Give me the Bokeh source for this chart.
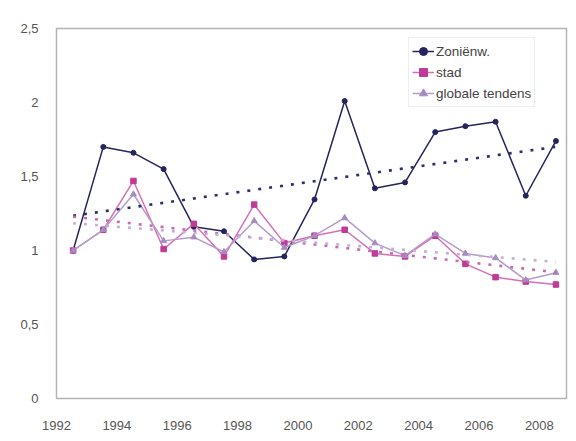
import numpy as np
from bokeh.plotting import figure
from bokeh.models import ColumnDataSource, FixedTicker, Legend, LegendItem, Range1d
from bokeh.transform import dodge
from bokeh.embed import file_html
from bokeh.resources import INLINE

years = list(range(1992, 2009))
zonienw = [1.00, 1.70, 1.66, 1.55, 1.16, 1.13, 0.94, 0.96, 1.345, 2.01, 1.42, 1.46, 1.80, 1.84, 1.87, 1.37, 1.74]
stad = [1.00, 1.14, 1.47, 1.01, 1.18, 0.96, 1.31, 1.05, 1.10, 1.14, 0.98, 0.96, 1.10, 0.91, 0.82, 0.79, 0.77]
globaal = [1.00, 1.14, 1.38, 1.065, 1.09, 0.99, 1.20, 1.02, 1.10, 1.22, 1.05, 0.965, 1.11, 0.98, 0.95, 0.80, 0.85]
series_names = ["Zoniënw.", "stad", "globale tendens"]

xticks = [1992, 1994, 1996, 1998, 2000, 2002, 2004, 2006, 2008]
yticks = [0.0, 0.5, 1.0, 1.5, 2.0, 2.5]
ylabels = ["0", "0,5", "1", "1,5", "2", "2,5"]

FONT = "Liberation Sans"
TXT = "#555555"

yr = np.array(years, dtype=float)
def trend(vals):
    k, b = np.polyfit(yr, np.array(vals), 1)
    return list(k * yr + b)

src = ColumnDataSource(dict(year=years, z=zonienw, s=stad, g=globaal,
                            tz=trend(zonienw), ts=trend(stad), tg=trend(globaal)))

p = figure(width=568, height=433, output_backend="svg", toolbar_location=None,
           x_range=Range1d(1992, 2008.9), y_range=Range1d(0, 2.5),
           min_border_left=56, min_border_right=2, min_border_top=28, min_border_bottom=35)
p.background_fill_color = "white"
p.border_fill_color = "white"
p.outline_line_color = "#b4b4b4"
p.outline_line_width = 1.5
p.xgrid.visible = False
p.ygrid.visible = False

X = dodge("year", 0.55)

cz, cs, cg = "#25245c", "#c03a98", "#b59ccc"

lz = p.line(X, "z", source=src, line_color=cz, line_width=1.5)
mz = p.scatter(X, "z", source=src, marker="circle", size=5, fill_color=cz, line_color=cz)
ls = p.line(X, "s", source=src, line_color="#d470b8", line_width=1.5)
ms = p.scatter(X, "s", source=src, marker="square", size=5.5, fill_color=cs, line_color=cs)
lg = p.line(X, "g", source=src, line_color=cg, line_width=1.5)
mg = p.scatter(X, "g", source=src, marker="triangle", size=6, fill_color="#a48cc0", line_color="#a48cc0")

p.line(X, "tz", source=src, line_color="#2e2e6a", line_width=2.6, line_dash="3 8")
p.line(X, "ts", source=src, line_color="#c86cb0", line_width=2.6, line_dash="3 8")
p.line(X, "tg", source=src, line_color="#c4b0da", line_width=2.6, line_dash="3 8")

legend = Legend(items=[LegendItem(label=series_names[0], renderers=[lz, mz]),
                       LegendItem(label=series_names[1], renderers=[ls, ms]),
                       LegendItem(label=series_names[2], renderers=[lg, mg])],
                location=(352, 291))
legend.border_line_color = "#dddddd"
legend.border_line_width = 1
legend.background_fill_alpha = 1
legend.padding = 3
legend.margin = 0
legend.spacing = 1
legend.label_height = 20
legend.glyph_height = 20
legend.glyph_width = 22
legend.label_standoff = 2
legend.label_text_font = FONT
legend.label_text_font_size = "13.5px"
legend.label_text_color = "#444444"
p.add_layout(legend, "center")

p.xaxis.ticker = FixedTicker(ticks=xticks)
p.yaxis.ticker = FixedTicker(ticks=yticks)
p.yaxis.major_label_overrides = dict(zip(yticks, ylabels))
for ax in (p.xaxis, p.yaxis):
    ax.axis_line_color = None
    ax.major_tick_line_color = None
    ax.minor_tick_line_color = None
    ax.major_label_text_font = FONT
    ax.major_label_text_font_size = "13px"
    ax.major_label_text_color = TXT
p.yaxis.major_label_standoff = 12
p.xaxis.major_label_standoff = 16

open("out.html", "w").write(file_html(p, INLINE))
